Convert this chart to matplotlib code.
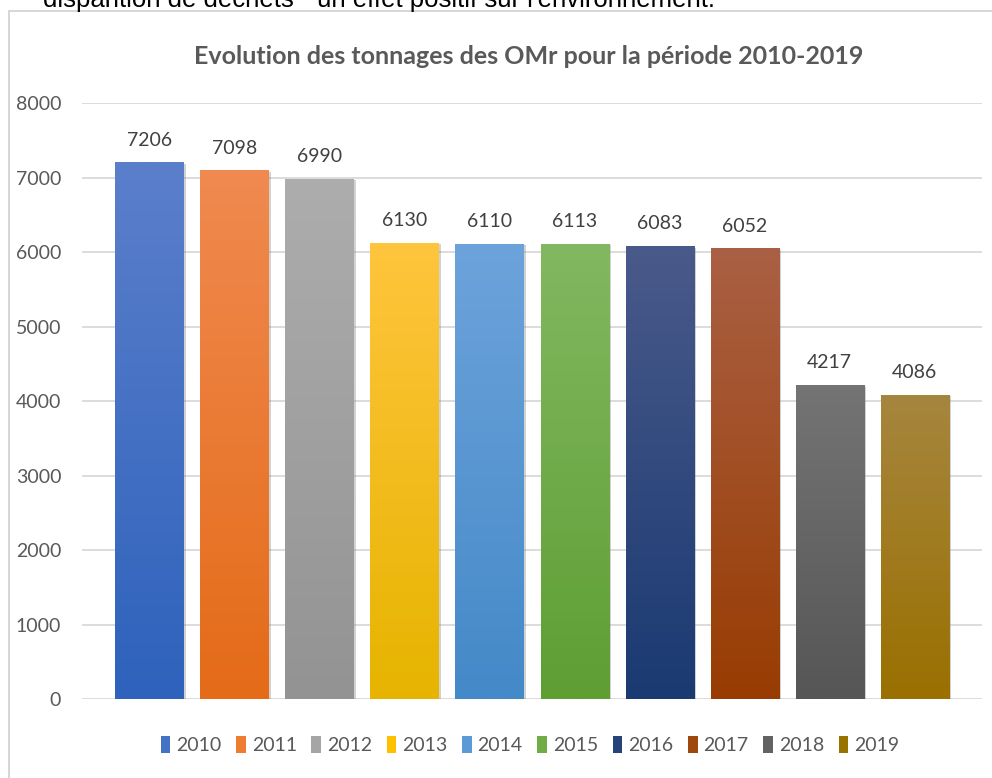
import numpy as np
import matplotlib
matplotlib.use("Agg")
import matplotlib.pyplot as plt
from matplotlib.colors import LinearSegmentedColormap
from matplotlib.patches import Rectangle, Patch
import matplotlib.patheffects as pe

years = ["2010", "2011", "2012", "2013", "2014", "2015", "2016", "2017", "2018", "2019"]
tonnages = [7206, 7098, 6990, 6130, 6110, 6113, 6083, 6052, 4217, 4086]
top_colors = ["#5B7FCB", "#F08A50", "#ADADAD", "#FFC53D", "#6DA3DB",
              "#82B861", "#4A5A8A", "#AA6044", "#747474", "#A6863F"]
bottom_colors = ["#2E62BC", "#E46B18", "#939393", "#E6B400", "#4489C8",
                 "#5E9E33", "#1A3A72", "#983C02", "#565656", "#9A7000"]
mid_colors = ["#4472C4", "#ED7D31", "#A5A5A5", "#FFC000", "#5B9BD5",
              "#70AD47", "#264478", "#9E480E", "#636363", "#997300"]

title = "Evolution des tonnages des OMr pour la période 2010-2019"
above_text = "disparition de déchets \" un effet positif sur l'environnement."

fig = plt.figure(figsize=(9.92, 7.78), dpi=100)
ax = fig.add_axes([82 / 992, 1 - 699.3 / 778, 900 / 992, 596 / 778])

# frame of the embedded chart (runs off the right and bottom edges)
fig.patches.append(Rectangle((9 / 992, -0.1), 1.2, 1.1 - 11 / 778, transform=fig.transFigure,
                             fill=False, edgecolor="#d0d0d0", linewidth=1.2))
# sentence from the page above the chart, cut off by the screenshot
fig.text(43 / 992, 1 - 7 / 778, above_text, fontsize=18.5, family="Liberation Sans",
         color="black", va="baseline", ha="left")

x = np.arange(len(years))
width = 0.8
bars = ax.bar(x, tonnages, width, color=mid_colors, zorder=3,
              path_effects=[pe.SimplePatchShadow(offset=(1.5, -1), shadow_rgbFace="#808080", alpha=0.35),
                            pe.Normal()])

grad = np.linspace(0, 1, 256).reshape(-1, 1)
for b, c_top, c_bot in zip(bars, top_colors, bottom_colors):
    cmap = LinearSegmentedColormap.from_list("g", [c_bot, c_top])
    x0, y0 = b.get_x(), b.get_y()
    im = ax.imshow(grad, cmap=cmap, origin="lower", aspect="auto", zorder=4,
                   extent=(x0, x0 + b.get_width(), y0, y0 + b.get_height()))
    im.set_clip_path(b)

for xi, v in zip(x, tonnages):
    ax.annotate(str(v), (xi, v), xytext=(0, 10), textcoords="offset points",
                ha="center", va="bottom", fontsize=14, family="Lato", color="#404040")

ax.set_xlim(-0.794, 9.794)
ax.set_ylim(0, 8000)
ax.set_yticks(range(0, 8001, 1000))
ax.set_xticks([])
ax.tick_params(axis="y", length=0, pad=15, labelsize=14, labelcolor="#595959")
for lab in ax.get_yticklabels():
    lab.set_family("Lato")
ax.grid(axis="y", color="#d9d9d9", linewidth=1.3, zorder=0)
for s in ax.spines.values():
    s.set_visible(False)

fig.text(529 / 992, 1 - 57 / 778, title, ha="center", va="center", fontsize=18,
         fontweight="bold", family="Lato", color="#595959")

handles = [Patch(facecolor=c) for c in mid_colors]
leg = fig.legend(handles, years, loc="center", bbox_to_anchor=(530 / 992, 1 - 745 / 778),
                 ncol=10, frameon=False, handlelength=0.5, handleheight=1.0,
                 handletextpad=0.3, columnspacing=0.75,
                 prop={"family": "Lato", "size": 14})
for t in leg.get_texts():
    t.set_color("#595959")

fig.savefig("out.png", dpi=100)
plt.close(fig)
